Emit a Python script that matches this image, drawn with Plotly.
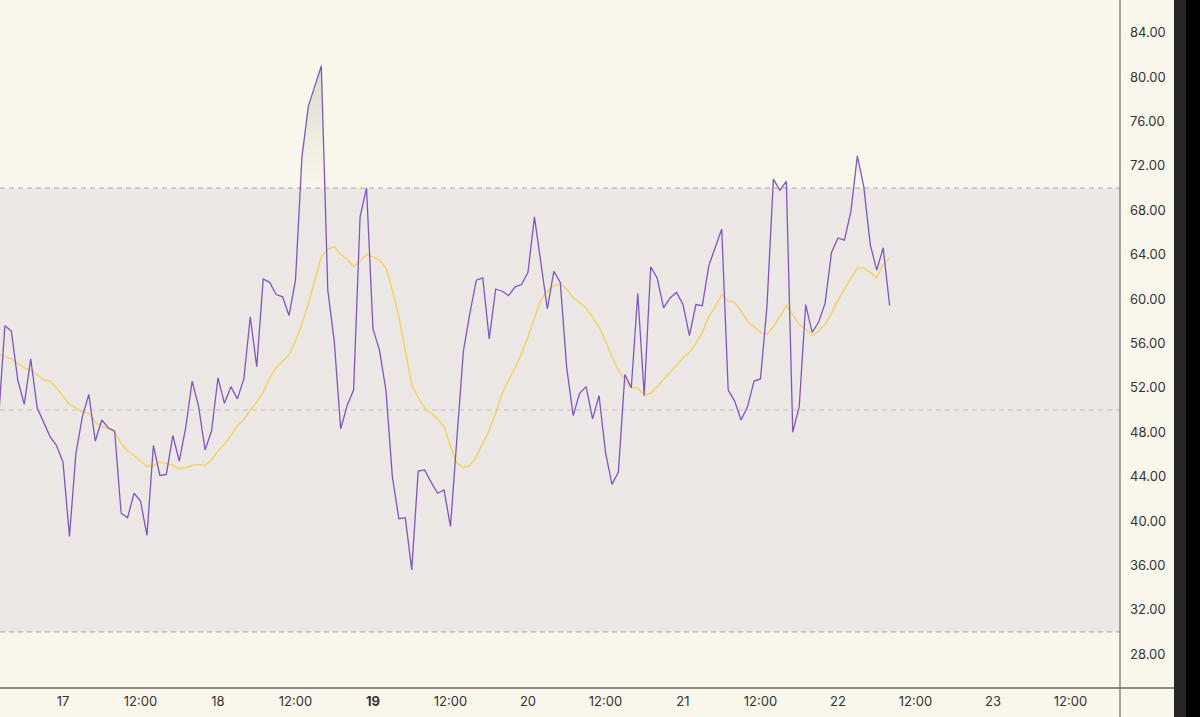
import plotly.graph_objects as go
import pandas as pd

# ---------------- data ----------------
start_time = "2024-03-16 14:00"

rsi = [49.0, 57.6, 57.1, 52.7, 50.5, 54.6, 50.2, 48.9, 47.6, 46.8,
       45.3, 38.6, 46.1, 49.4, 51.4, 47.2, 49.1, 48.4, 48.1, 40.7,
       40.3, 42.5, 41.8, 38.7, 46.8, 44.1, 44.2, 47.7, 45.4, 48.4,
       52.6, 50.3, 46.4, 48.1, 52.9, 50.6, 52.1, 51.0, 52.8, 58.4,
       53.9, 61.8, 61.5, 60.4, 60.2, 58.5, 61.7, 72.8, 77.4, 79.2,
       81.0, 60.8, 56.2, 48.3, 50.4, 51.8, 67.4, 70.0, 57.3, 55.4,
       51.8, 44.0, 40.2, 40.3, 35.6, 44.5, 44.6, 43.5, 42.5, 42.8,
       39.5, 47.5, 55.3, 58.7, 61.7, 61.9, 56.4, 60.9, 60.7, 60.3,
       61.1, 61.3, 62.4, 67.4, 63.2, 59.1, 62.5, 61.5, 53.8, 49.5,
       51.5, 52.1, 49.2, 51.3, 46.2, 43.3, 44.4, 53.2, 52.0, 60.5,
       51.3, 62.9, 61.9, 59.2, 60.1, 60.6, 59.5, 56.7, 59.5, 59.4,
       63.0, 64.7, 66.3, 51.8, 50.8, 49.1, 50.3, 52.6, 52.8, 59.3,
       70.8, 69.8, 70.6, 48.0, 50.3, 59.5, 57.0, 57.9, 59.6, 64.2,
       65.5, 65.3, 67.9, 72.9, 70.1, 64.9, 62.6, 64.6, 59.4]

rsi_ma = [55.1, 54.8, 54.6, 54.2, 53.8, 53.6, 53.2, 52.7, 52.6, 52.0,
          51.3, 50.5, 50.2, 49.8, 49.7, 48.9, 48.5, 48.3, 48.0, 47.0,
          46.3, 45.9, 45.4, 44.9, 45.0, 45.3, 45.2, 45.0, 44.7, 44.8,
          45.0, 45.1, 45.0, 45.5, 46.3, 46.9, 47.7, 48.6, 49.1, 50.0,
          50.7, 51.6, 52.9, 53.8, 54.4, 55.0, 56.2, 57.8, 59.6, 61.7,
          63.8, 64.5, 64.7, 64.0, 63.6, 62.9, 63.4, 64.0, 63.8, 63.5,
          62.8, 60.8, 58.4, 55.4, 52.3, 51.1, 50.2, 49.7, 49.2, 48.5,
          46.7, 45.2, 44.8, 45.0, 45.8, 47.0, 48.2, 49.7, 51.5, 52.7,
          53.8, 55.1, 56.6, 58.3, 59.9, 60.7, 61.2, 61.4, 60.9, 60.1,
          59.7, 59.2, 58.4, 57.5, 56.2, 54.8, 53.6, 52.7, 52.0, 52.0,
          51.3, 51.5, 52.1, 52.8, 53.4, 54.0, 54.7, 55.2, 56.0, 57.0,
          58.4, 59.3, 60.4, 59.8, 59.7, 58.9, 58.0, 57.5, 57.0, 56.8,
          57.5, 58.4, 59.4, 58.6, 57.7, 57.3, 56.7, 57.1, 57.7, 58.7,
          59.9, 60.9, 61.9, 62.8, 62.8, 62.4, 61.9, 63.1, 63.7]

upper_band = 70
middle_band = 50
lower_band = 30

x_tick_times = ["2024-03-17 00:00", "2024-03-17 12:00", "2024-03-18 00:00", "2024-03-18 12:00",
                "2024-03-19 00:00", "2024-03-19 12:00", "2024-03-20 00:00", "2024-03-20 12:00",
                "2024-03-21 00:00", "2024-03-21 12:00", "2024-03-22 00:00", "2024-03-22 12:00",
                "2024-03-23 00:00", "2024-03-23 12:00"]
x_tick_labels = ["17", "12:00", "18", "12:00", "<b>19</b>", "12:00", "20", "12:00",
                 "21", "12:00", "22", "12:00", "23", "12:00"]
y_tick_vals = [28, 32, 36, 40, 44, 48, 52, 56, 60, 64, 68, 72, 76, 80, 84]

# ---------------- helpers ----------------
times = pd.date_range(start_time, periods=len(rsi), freq="h")


def overbought_polygons(t, v, level):
    tn = [ts.value for ts in t]
    xs, ys = [], []
    n = len(v)
    i = 0
    while i < n:
        if v[i] > level:
            if i > 0:
                f = (level - v[i - 1]) / (v[i] - v[i - 1])
                px = [tn[i - 1] + f * (tn[i] - tn[i - 1])]
            else:
                px = [tn[i]]
            py = [level]
            while i < n and v[i] > level:
                px.append(tn[i]); py.append(v[i]); i += 1
            if i < n:
                f = (v[i - 1] - level) / (v[i - 1] - v[i])
                px.append(tn[i - 1] + f * (tn[i] - tn[i - 1]))
            else:
                px.append(tn[i - 1])
            py.append(level)
            xs += list(pd.to_datetime([int(p) for p in px])) + [None]
            ys += py + [None]
        else:
            i += 1
    return xs, ys


ob_x, ob_y = overbought_polygons(times, rsi, upper_band)

BG = "#F9F7EC"
TEXT = "#333333"
FONT = "Inter, Roboto, 'Liberation Sans', sans-serif"

fig = go.Figure()

fig.add_trace(go.Scatter(
    x=ob_x, y=ob_y, mode="none", fill="toself",
    fillgradient=dict(type="vertical", start=70, stop=100,
                      colorscale=[[0, "rgba(120,130,80,0)"], [1, "rgba(120,130,80,0.6)"]]),
    hoverinfo="skip", showlegend=False))

fig.add_trace(go.Scatter(x=times, y=rsi_ma, mode="lines",
                         line=dict(color="#F5D35A", width=1.4), showlegend=False))
fig.add_trace(go.Scatter(x=times, y=rsi, mode="lines",
                         line=dict(color="#7E57C2", width=1.3), showlegend=False))

shapes = [
    dict(type="rect", xref="paper", yref="y", x0=0, x1=1, y0=lower_band, y1=upper_band,
         fillcolor="#EBE8E6", line=dict(width=0), layer="below"),
    dict(type="line", xref="paper", yref="y", x0=0, x1=1, y0=upper_band, y1=upper_band,
         line=dict(color="#A9A7A3", width=1, dash="5px,4px"), layer="below"),
    dict(type="line", xref="paper", yref="y", x0=0, x1=1, y0=middle_band, y1=middle_band,
         line=dict(color="#C6C4C0", width=1, dash="5px,4px"), layer="below"),
    dict(type="line", xref="paper", yref="y", x0=0, x1=1, y0=lower_band, y1=lower_band,
         line=dict(color="#A9A7A3", width=1, dash="5px,4px"), layer="below"),
    # time-axis line
    dict(type="line", xref="paper", yref="paper", x0=0, x1=1174 / 1120, y0=0, y1=0,
         line=dict(color="#8C8C86", width=2)),
    # price-axis line
    dict(type="line", xref="paper", yref="paper", x0=1, x1=1, y0=-29 / 688, y1=1,
         line=dict(color="#55554F", width=1)),
    # dark window edge
    dict(type="rect", xref="paper", yref="paper", x0=1174 / 1120, x1=1186 / 1120,
         y0=-0.05, y1=1.01, fillcolor="#262626", line=dict(width=0)),
    dict(type="rect", xref="paper", yref="paper", x0=1186 / 1120, x1=1205 / 1120,
         y0=-0.05, y1=1.01, fillcolor="#000000", line=dict(width=0)),
]

x_start = times[0] + pd.Timedelta(hours=10) - pd.Timedelta(hours=9.755)
x_end = times[0] + pd.Timedelta(hours=10) + pd.Timedelta(hours=163.67)

fig.update_layout(
    width=1200, height=717,
    margin=dict(l=0, r=80, t=0, b=29),
    paper_bgcolor=BG, plot_bgcolor=BG,
    font=dict(family=FONT, size=13, color=TEXT),
    shapes=shapes,
    showlegend=False,
    xaxis=dict(type="date", range=[x_start, x_end], tickvals=x_tick_times, ticktext=x_tick_labels,
               showgrid=False, zeroline=False, showline=False, ticks="", ticklabelstandoff=4,
               tickfont=dict(size=13, color=TEXT)),
    yaxis=dict(side="right", range=[24.95, 86.94], tickvals=y_tick_vals,
               ticktext=[f"{v:.2f}" for v in y_tick_vals],
               showgrid=False, zeroline=False, showline=False, ticks="", ticklabelstandoff=9,
               tickfont=dict(size=13, color=TEXT)),
)

fig.write_html("out.html", config={"displayModeBar": False},
               post_script="document.body.style.margin='0';")
